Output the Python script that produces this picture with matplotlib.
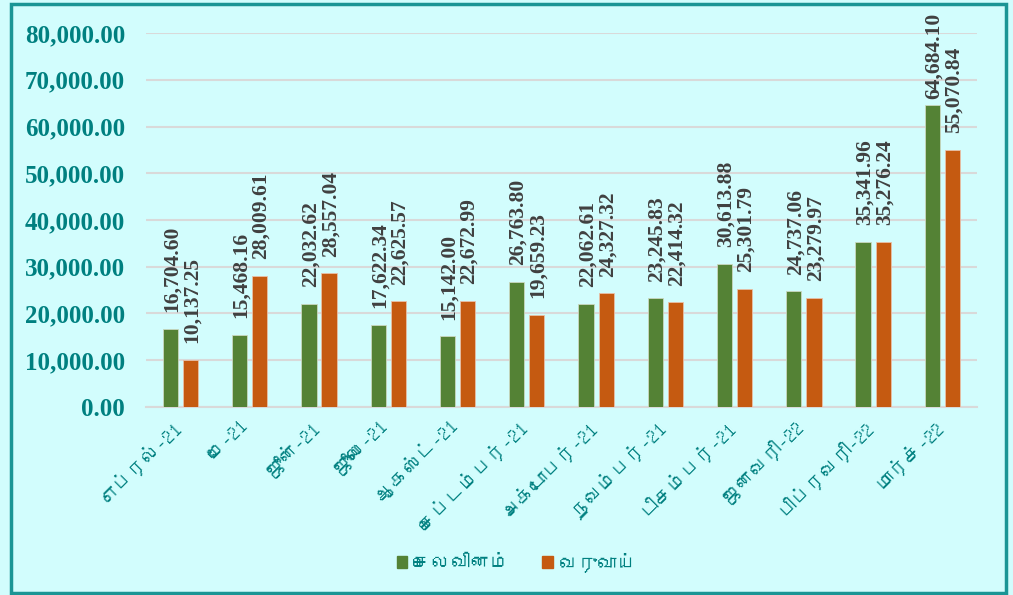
import matplotlib
matplotlib.use("Agg")
import matplotlib.pyplot as plt
from matplotlib import font_manager
from matplotlib.ft2font import FT2Font
from matplotlib.patches import Rectangle
from matplotlib.transforms import ScaledTranslation
import numpy as np

months = ['எப்ரல்-21', 'மே-21', 'ஜூன்-21', 'ஜூலை-21', 'ஆகஸ்ட்-21', 'செப்டம்பர்-21',
          'அக்டோபர்-21', 'நவம்பர்-21', 'டிசம்பர்-21', 'ஜனவரி-22', 'பிப்ரவரி-22', 'மார்ச்-22']
expense = [16704.60, 15468.16, 22032.62, 17622.34, 15142.00, 26763.80,
           22062.61, 23245.83, 30613.88, 24737.06, 35341.96, 64684.10]
income = [10137.25, 28009.61, 28557.04, 22625.57, 22672.99, 19659.23,
          24327.32, 22414.32, 25301.79, 23279.97, 35276.24, 55070.84]
series_names = ['செலவினம்', 'வருவாய்']


# pick any installed font that has Tamil letters, keep DejaVu as fallback
def tamil_fonts():
    found = []
    for f in font_manager.fontManager.ttflist:
        try:
            if 0x0B9A in FT2Font(f.fname).get_charmap() and f.name not in found:
                found.append(f.name)
        except Exception:
            pass
    return found


label_family = tamil_fonts()[:1] + ['DejaVu Sans']

teal = '#008080'
green = '#548235'
orange = '#c55a11'
bg = '#d2fdfd'

fig = plt.figure(figsize=(10.13, 5.95), dpi=100, facecolor=bg)
ax = fig.add_axes([0.144, 0.316, 0.8205, 0.6285])
ax.set_facecolor(bg)

x = np.arange(len(months))
w = 0.22
off = 0.145
b1 = ax.bar(x - off, expense, w, color=green, edgecolor='#c9d8c0', linewidth=0.6, zorder=3)
b2 = ax.bar(x + off, income, w, color=orange, edgecolor='#e8c0a8', linewidth=0.6, zorder=3)

value_labels = []
for bars, vals in ((b1, expense), (b2, income)):
    for r, v in zip(bars, vals):
        value_labels.append(ax.annotate(
            f'{v:,.2f}', (r.get_x() + r.get_width() / 2, v),
            xytext=(1, 12), textcoords='offset points', rotation=90,
            ha='center', va='bottom', fontsize=15.5, fontweight='bold',
            family='Liberation Serif', color='#404040', zorder=4,
            annotation_clip=False))

ax.set_xlim(-0.5, len(months) - 0.5)
ax.set_ylim(0, 80000)
ax.set_yticks(np.arange(0, 80001, 10000))
ax.set_yticklabels([f'{t:,.2f}' for t in np.arange(0, 80001, 10000)],
                   family='Liberation Serif', fontweight='bold', fontsize=18, color=teal)
ax.yaxis.grid(True, color='#d9d9d9', linewidth=1.5, zorder=0)
ax.tick_params(axis='y', length=0, pad=15)
ax.tick_params(axis='x', length=0, pad=6)
ax.set_xticks(x)
ax.set_xticklabels(months, rotation=45, ha='right', rotation_mode='anchor',
                   family=label_family, fontsize=14, color=teal)
shift = ScaledTranslation(-10 / 100, -1 / 100, fig.dpi_scale_trans)
for t in ax.get_xticklabels():
    t.set_transform(t.get_transform() + shift)
for s in ('top', 'right', 'left'):
    ax.spines[s].set_visible(False)
ax.spines['bottom'].set_color('#d9d9d9')
ax.spines['bottom'].set_linewidth(1.5)

handles = [Rectangle((0, 0), 1, 1, color=green), Rectangle((0, 0), 1, 1, color=orange)]
fig.legend(handles, series_names, loc='center', bbox_to_anchor=(0.51, 1 - 562 / 595),
           ncol=2, frameon=False, prop={'family': label_family, 'size': 14},
           labelcolor=teal, handlelength=0.55, handleheight=0.55, handletextpad=0.3,
           columnspacing=1.6)

fig.patches.append(Rectangle((0.011, 0.004), 0.982, 0.99, transform=fig.transFigure,
                             fill=False, edgecolor='#1a9595', linewidth=2.5))

# keep tall value labels inside the chart frame (push them down toward the bar)
fig.canvas.draw()
top_limit = fig.bbox.height - 13
for lab in value_labels:
    bb = lab.get_window_extent()
    if bb.y1 > top_limit:
        dx, dy = lab.xyann
        lab.xyann = (dx, dy - (bb.y1 - top_limit) * 72 / fig.dpi)

fig.savefig('out.png', dpi=100, facecolor=bg)
